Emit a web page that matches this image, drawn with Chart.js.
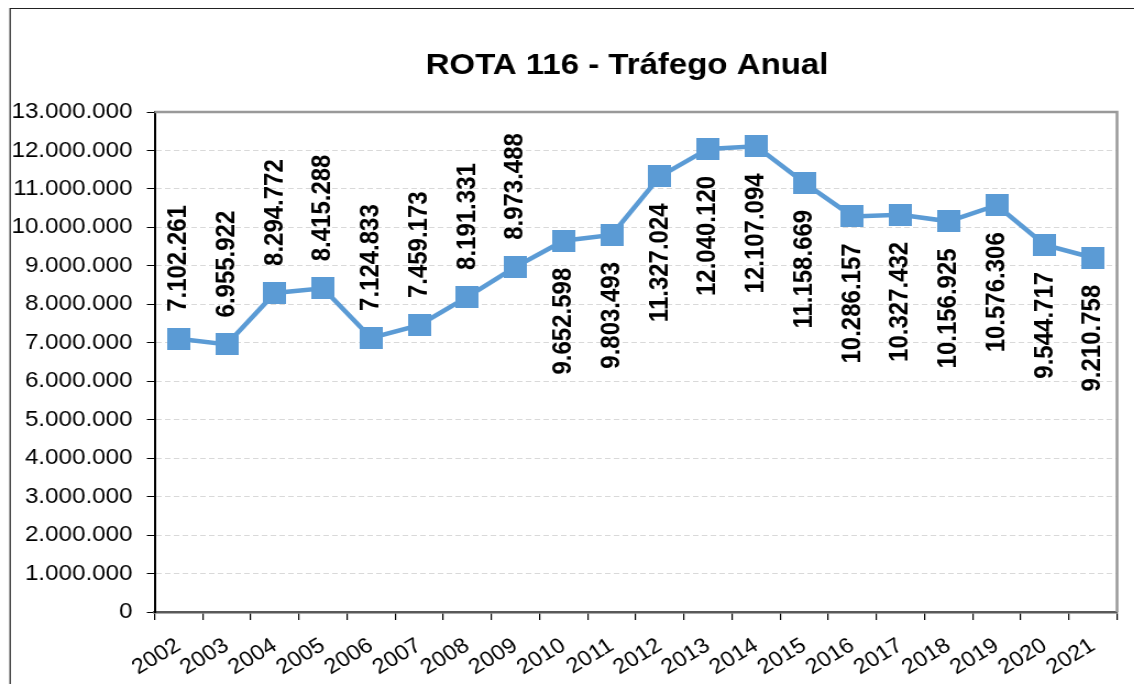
<!DOCTYPE html>
<html>
<head>
<meta charset="utf-8">
<title>ROTA 116 - Tráfego Anual</title>
<script src="https://cdn.jsdelivr.net/npm/chart.js@4.4.1/dist/chart.umd.min.js"></script>
<style>
  html, body { margin: 0; padding: 0; background: #fff; overflow: hidden; }
  /* sheet is laid out narrow and widened a little, as in the Excel export */
  #wrap { width: 1031px; height: 684px; transform: scaleX(1.1); transform-origin: 0 0; }
</style>
</head>
<body>
<div id="wrap"><canvas id="trafego"></canvas></div>
<script>
// traffic per year
const anos = ["2002", "2003", "2004", "2005", "2006", "2007", "2008", "2009", "2010", "2011",
              "2012", "2013", "2014", "2015", "2016", "2017", "2018", "2019", "2020", "2021"];
const trafego = [7102261, 6955922, 8294772, 8415288, 7124833, 7459173, 8191331, 8973488, 9652598, 9803493,
                 11327024, 12040120, 12107094, 11158669, 10286157, 10327432, 10156925, 10576306, 9544717, 9210758];
const eixoYMin = 0;
const eixoYMax = 13000000;
const eixoYPasso = 1000000;
const titulo = "ROTA 116 - Tráfego Anual";

// labels sit above the point up to this year, below after it
const ULTIMO_ANO_ACIMA = 2009;

const AZUL = "#5b9bd5";
const FONTE = '"Liberation Sans", Arial, sans-serif';

// 1.234.567 style thousands separator
const fmt = (v) => String(v).replace(/\B(?=(\d{3})+(?!\d))/g, ".");

// square marker, a touch taller than wide
const marcador = document.createElement("canvas");
marcador.width = 21;
marcador.height = 22;
const mctx = marcador.getContext("2d");
mctx.fillStyle = AZUL;
mctx.fillRect(0, 0, 21, 22);

const molduraPlugin = {
  id: "moldura",
  beforeDraw(chart) {
    const ctx = chart.ctx;
    ctx.save();
    // outer chart border (left and top only)
    ctx.strokeStyle = "#222";
    ctx.lineWidth = 1.2;
    ctx.beginPath();
    ctx.moveTo(9.2, chart.height);
    ctx.lineTo(9.2, 8.5);
    ctx.lineTo(chart.width, 8.5);
    ctx.stroke();
    // title
    ctx.fillStyle = "#000";
    ctx.font = "bold 30px " + FONTE;
    ctx.textAlign = "center";
    ctx.textBaseline = "alphabetic";
    ctx.fillText(titulo, 570, 74);
    ctx.restore();
  },
  beforeDatasetsDraw(chart) {
    const { ctx, chartArea: a } = chart;
    ctx.save();
    ctx.strokeStyle = "#999";
    ctx.lineWidth = 2.5;
    ctx.beginPath();
    ctx.moveTo(a.left, a.top);
    ctx.lineTo(a.right, a.top);
    ctx.lineTo(a.right, a.bottom);
    ctx.stroke();
    ctx.restore();
  }
};

const rotulosPlugin = {
  id: "rotulos",
  afterDatasetsDraw(chart) {
    const ctx = chart.ctx;
    const meta = chart.getDatasetMeta(0);
    ctx.save();
    ctx.font = "bold 24px " + FONTE;
    ctx.fillStyle = "#000";
    ctx.textBaseline = "middle";
    meta.data.forEach((pt, i) => {
      const acima = Number(anos[i]) <= ULTIMO_ANO_ACIMA;
      ctx.save();
      ctx.translate(pt.x, pt.y);
      ctx.rotate(-Math.PI / 2);
      ctx.textAlign = acima ? "left" : "right";
      ctx.fillText(fmt(trafego[i]), acima ? 27 : -27, 0);
      ctx.restore();
    });
    ctx.restore();
  }
};

new Chart(document.getElementById("trafego"), {
  type: "line",
  data: {
    labels: anos,
    datasets: [{
      label: titulo,
      data: trafego,
      borderColor: AZUL,
      backgroundColor: AZUL,
      borderWidth: 4.5,
      tension: 0,
      pointStyle: marcador,
      pointRadius: 11,
      pointHoverRadius: 11
    }]
  },
  options: {
    responsive: true,
    maintainAspectRatio: false,
    animation: false,
    events: [],
    layout: { padding: { top: 112, right: 10, bottom: 0, left: 0 } },
    plugins: {
      legend: { display: false },
      title: { display: false },
      tooltip: { enabled: false }
    },
    scales: {
      x: {
        offset: true,
        grid: {
          offset: true,
          drawOnChartArea: false,
          color: "#000",
          lineWidth: 1.2,
          tickLength: 8
        },
        border: { color: "#595959", width: 2.5 },
        ticks: {
          color: "#000",
          font: { family: FONTE, size: 21.5 },
          autoSkip: false,
          minRotation: 33,
          maxRotation: 33,
          padding: 13
        },
        afterFit: (s) => { s.height = 72; }
      },
      y: {
        min: eixoYMin,
        max: eixoYMax,
        grid: {
          color: (c) => (c.tick && (c.tick.value === eixoYMin || c.tick.value === eixoYMax)) ? "rgba(0,0,0,0)" : "#d9d9d9",
          lineWidth: 1,
          tickColor: "#000",
          tickBorderDash: [],
          tickLength: 7
        },
        border: { color: "#000", width: 2, dash: [5, 3] },
        ticks: {
          stepSize: eixoYPasso,
          color: "#000",
          font: { family: FONTE, size: 22 },
          padding: 13,
          callback: (v) => fmt(v)
        },
        afterFit: (s) => { s.width = 140.5; }
      }
    }
  },
  plugins: [molduraPlugin, rotulosPlugin]
});
</script>
</body>
</html>
